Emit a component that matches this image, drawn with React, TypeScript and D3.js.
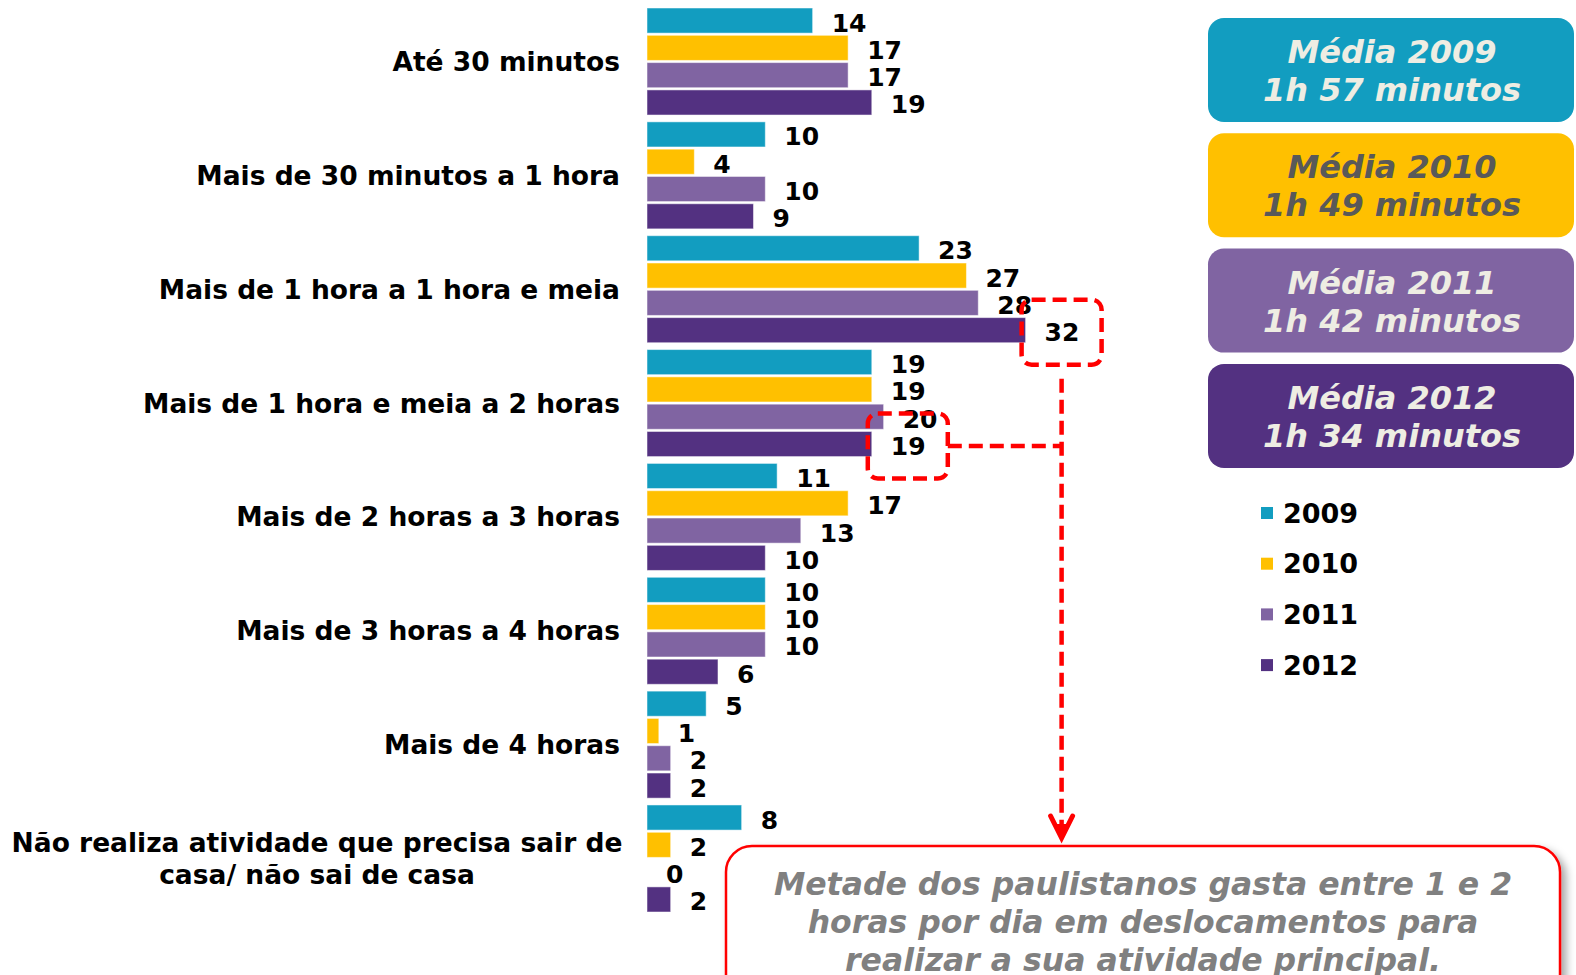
import React from "react";
import * as d3 from "d3";

const categories = [
  "Até 30 minutos",
  "Mais de 30 minutos a 1 hora",
  "Mais de 1 hora a 1 hora e meia",
  "Mais de 1 hora e meia a 2 horas",
  "Mais de 2 horas a 3 horas",
  "Mais de 3 horas a 4 horas",
  "Mais de 4 horas",
  "Não realiza atividade que precisa sair de|casa/ não sai de casa",
];
const years = ["2009", "2010", "2011", "2012"];
const v2009 = [14, 10, 23, 19, 11, 10, 5, 8];
const v2010 = [17, 4, 27, 19, 17, 10, 1, 2];
const v2011 = [17, 10, 28, 20, 13, 10, 2, 0];
const v2012 = [19, 9, 32, 19, 10, 6, 2, 2];
const seriesValues = [v2009, v2010, v2011, v2012];
const colors = ["#129DC0", "#FFC000", "#8064A2", "#533181"];
const mediaLabels = ["1h 57 minutos", "1h 49 minutos", "1h 42 minutos", "1h 34 minutos"];
const mediaTextColors = ["#EEEDE3", "#595959", "#EEEDE3", "#EEEDE3"];
const noteLines = [
  "Metade dos paulistanos gasta entre 1 e 2",
  "horas por dia em deslocamentos para",
  "realizar a sua atividade principal.",
];

const FONT = "'DejaVu Sans', Verdana, sans-serif";

export default function App() {
  const x = d3.scaleLinear().domain([0, 32]).range([647, 1025.6]);
  const y0 = d3.scaleBand<string>().domain(categories).range([8, 912]).paddingInner(0.06);
  const y1 = d3.scaleBand<string>().domain(years).range([0, y0.bandwidth()]).paddingInner(0.08);
  const bh = y1.bandwidth();

  const labelPos = (ci: number, si: number) => {
    const v = seriesValues[si][ci];
    const cy = (y0(categories[ci]) as number) + (y1(years[si]) as number) + bh / 2;
    return { lx: x(v) + 19, cy };
  };

  const hl1 = labelPos(2, 3);
  const hl2 = labelPos(3, 3);
  const b1 = { cx: hl1.lx + 17, cy: hl1.cy + 2 };
  const b2 = { cx: hl2.lx + 17, cy: hl2.cy + 2 };
  const bw = 80, bhh = 65;
  const arrowTipY = 838;
  const red = "#FF0000";

  return (
    <svg width={1576} height={975} style={{ position: "absolute", left: 0, top: 0, display: "block" }} fontFamily={FONT}>
      <defs>
        <filter id="shadow" x="-5%" y="-20%" width="115%" height="150%">
          <feDropShadow dx="5" dy="5" stdDeviation="4" floodColor="#000" floodOpacity="0.35" />
        </filter>
      </defs>
      <rect width={1576} height={975} fill="#fff" />

      {categories.map((c, i) => {
        const cy = (y0(c) as number) + y0.bandwidth() / 2;
        const lines = c.split("|");
        if (lines.length === 1) {
          return (
            <text key={c} x={620} y={cy} dy="0.36em" textAnchor="end" fontSize={26.5} fontWeight="bold" fill="#000">
              {c}
            </text>
          );
        }
        return (
          <text key={c} textAnchor="middle" fontSize={26.5} fontWeight="bold" fill="#000">
            {lines.map((l, li) => (
              <tspan key={li} x={317} y={cy + (li - (lines.length - 1) / 2) * 32} dy="0.36em">
                {l}
              </tspan>
            ))}
          </text>
        );
      })}

      {categories.map((c, ci) => (
        <g key={c} transform={`translate(0,${y0(c)})`}>
          {years.map((yr, si) => {
            const v = seriesValues[si][ci];
            const yy = y1(yr) as number;
            return (
              <g key={yr}>
                {v > 0 && (
                  <rect x={x(0)} y={yy} width={x(v) - x(0)} height={bh} fill={colors[si]} stroke="#fff" strokeOpacity={0.5} strokeWidth={1} />
                )}
                <text x={x(v) + 19} y={yy + bh / 2 + 2} dy="0.36em" fontSize={25} fontWeight="bold" fill="#000">
                  {v}
                </text>
              </g>
            );
          })}
        </g>
      ))}

      <g fill="none" stroke={red} strokeWidth={4.5} strokeDasharray="14 7">
        <rect x={b1.cx - bw / 2} y={b1.cy - bhh / 2} width={bw} height={bhh} rx={10} />
        <rect x={b2.cx - bw / 2} y={b2.cy - bhh / 2} width={bw} height={bhh} rx={10} />
        <line x1={b2.cx + bw / 2} y1={b2.cy} x2={b1.cx} y2={b2.cy} />
        <line x1={b1.cx} y1={b1.cy + bhh / 2 + 14} x2={b1.cx} y2={arrowTipY - 12} />
      </g>
      <path
        d={`M${b1.cx - 11},${arrowTipY - 22} L${b1.cx},${arrowTipY} L${b1.cx + 11},${arrowTipY - 22}`}
        fill="none"
        stroke={red}
        strokeWidth={5}
        strokeLinejoin="miter"
        strokeLinecap="round"
      />
      <path d={`M${b1.cx - 7},${arrowTipY - 14} L${b1.cx},${arrowTipY} L${b1.cx + 7},${arrowTipY - 14} Z`} fill={red} />

      <rect x={726} y={846} width={834} height={170} rx={26} fill="#fff" stroke={red} strokeWidth={2.5} filter="url(#shadow)" />
      {noteLines.map((l, i) => (
        <text key={i} x={1143} y={895 + i * 38} textAnchor="middle" fontSize={31.5} fontWeight="bold" fontStyle="italic" fill="#808080">
          {l}
        </text>
      ))}

      {years.map((yr, i) => {
        const top = 18 + i * 115.3;
        return (
          <g key={yr}>
            <rect x={1208} y={top} width={366} height={104} rx={16} fill={colors[i]} />
            <text x={1392} y={top + 45} textAnchor="middle" fontSize={32} fontWeight="bold" fontStyle="italic" fill={mediaTextColors[i]}>
              {`Média ${yr}`}
            </text>
            <text x={1392} y={top + 83} textAnchor="middle" fontSize={32} fontWeight="bold" fontStyle="italic" fill={mediaTextColors[i]}>
              {mediaLabels[i]}
            </text>
          </g>
        );
      })}

      {years.map((yr, i) => {
        const cy = 513 + i * 50.7;
        return (
          <g key={yr}>
            <rect x={1261} y={cy - 6} width={12} height={12} fill={colors[i]} />
            <text x={1283} y={cy} dy="0.36em" fontSize={27} fontWeight="bold" fill="#000">
              {yr}
            </text>
          </g>
        );
      })}
    </svg>
  );
}
